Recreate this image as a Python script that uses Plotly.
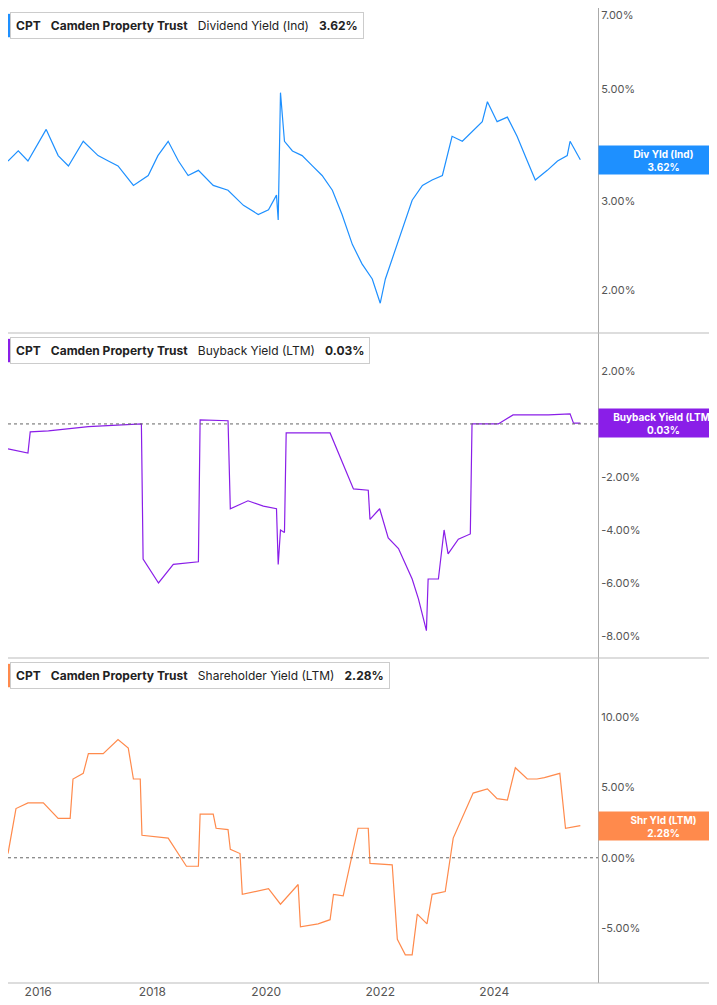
import pandas as pd
import plotly.graph_objects as go
from plotly.subplots import make_subplots

def to_dates(years):
    return [pd.Timestamp("2016-01-01") + pd.Timedelta(days=(y - 2016) * 365.25) for y in years]

div_years = [2015.47,2015.65,2015.82,2016.14,2016.35,2016.53,2016.79,2017.05,2017.23,2017.40,2017.67,2017.93,2018.10,2018.28,2018.46,2018.63,2018.81,2019.07,2019.33,2019.60,2019.86,2020.04,2020.18,2020.21,2020.25,2020.32,2020.46,2020.63,2020.81,2020.98,2021.16,2021.33,2021.51,2021.68,2021.86,2022.0,2022.09,2022.21,2022.39,2022.56,2022.74,2022.91,2023.09,2023.26,2023.44,2023.61,2023.79,2023.88,2024.05,2024.23,2024.40,2024.58,2024.72,2024.93,2025.11,2025.28,2025.33,2025.51]
div_vals = [3.60,3.77,3.60,4.16,3.69,3.52,3.94,3.69,3.60,3.52,3.22,3.37,3.69,3.94,3.60,3.37,3.45,3.22,3.15,2.94,2.82,2.88,3.08,2.75,4.92,3.94,3.77,3.69,3.52,3.37,3.15,2.82,2.46,2.25,2.10,1.88,2.10,2.30,2.63,3.01,3.22,3.30,3.37,4.03,3.94,4.12,4.31,4.72,4.31,4.40,4.03,3.60,3.30,3.45,3.60,3.69,3.94,3.62]

bb_years = [2015.47,2015.82,2015.86,2016.18,2016.88,2017.81,2017.84,2018.11,2018.37,2018.81,2018.84,2019.33,2019.37,2019.68,2019.95,2020.18,2020.21,2020.25,2020.32,2020.35,2021.12,2021.53,2021.79,2021.82,2021.99,2022.14,2022.32,2022.44,2022.56,2022.67,2022.81,2022.84,2023.02,2023.12,2023.19,2023.37,2023.58,2023.61,2024.07,2024.33,2024.95,2025.33,2025.39,2025.51]
bb_vals = [-0.94,-1.1,-0.3,-0.26,-0.1,0.0,-5.1,-6.0,-5.3,-5.2,0.15,0.12,-3.2,-2.9,-3.1,-3.2,-5.3,-4.0,-4.1,-0.34,-0.34,-2.45,-2.5,-3.6,-3.2,-4.3,-4.7,-5.3,-5.85,-6.6,-7.8,-5.85,-5.85,-4.0,-4.9,-4.35,-4.15,0.0,0.0,0.34,0.34,0.38,0.03,0.03]

sh_years = [2015.47,2015.61,2015.82,2016.09,2016.35,2016.56,2016.61,2016.79,2016.88,2017.14,2017.40,2017.58,2017.67,2017.79,2017.82,2018.28,2018.60,2018.81,2018.84,2019.07,2019.12,2019.33,2019.37,2019.54,2019.58,2020.04,2020.25,2020.56,2020.60,2020.91,2021.12,2021.18,2021.35,2021.61,2021.79,2021.82,2022.21,2022.30,2022.44,2022.56,2022.65,2022.82,2022.91,2023.14,2023.28,2023.46,2023.63,2023.88,2024.05,2024.23,2024.37,2024.58,2024.75,2024.88,2025.15,2025.25,2025.51]
sh_vals = [0.3,3.5,3.9,3.9,2.8,2.8,5.6,6.0,7.4,7.4,8.4,7.8,5.6,5.6,1.6,1.4,-0.6,-0.6,3.1,3.1,2.1,2.0,0.6,0.3,-2.6,-2.2,-3.3,-1.9,-4.9,-4.7,-4.4,-2.6,-2.7,2.1,2.1,-0.4,-0.5,-5.8,-6.9,-6.9,-4.0,-4.7,-2.6,-2.4,1.4,3.1,4.6,4.9,4.2,4.1,6.4,5.6,5.6,5.7,6.0,2.1,2.28]

BLUE = "#1e90ff"
PURPLE = "#8a1ee8"
ORANGE = "#ff8a4c"

fig = make_subplots(rows=3, cols=1, shared_xaxes=True, vertical_spacing=0)
fig.add_trace(go.Scatter(x=to_dates(div_years), y=div_vals, mode="lines", line=dict(color=BLUE, width=1.2)), row=1, col=1)
fig.add_trace(go.Scatter(x=to_dates(bb_years), y=bb_vals, mode="lines", line=dict(color=PURPLE, width=1.2)), row=2, col=1)
fig.add_trace(go.Scatter(x=to_dates(sh_years), y=sh_vals, mode="lines", line=dict(color=ORANGE, width=1.2)), row=3, col=1)

tickfont = dict(family="Inter", size=11, color="#555")
fig.update_yaxes(side="right", showgrid=False, zeroline=False, ticks="", tickfont=tickfont,
                 showline=True, linecolor="#aaa", mirror=False, ticklabeloverflow="allow")
fig.update_yaxes(type="log", range=[0.215, 0.86], tickvals=[2, 3, 5, 7],
                 ticktext=["2.00%", "3.00%", "5.00%", "7.00%"], row=1, col=1)
fig.update_yaxes(range=[-8.83, 3.43], tickvals=[2, -2, -4, -6, -8],
                 ticktext=["2.00%", "-2.00%", "-4.00%", "-6.00%", "-8.00%"], row=2, col=1)
fig.update_yaxes(range=[-8.9, 14.2], tickvals=[10, 5, 0, -5],
                 ticktext=["10.00%", "5.00%", "0.00%", "-5.00%"], row=3, col=1)
x0 = to_dates([2015.47])[0]
x1 = to_dates([2025.82])[0]
fig.update_xaxes(range=[x0, x1], showgrid=False, ticks="", tickfont=dict(family="Inter", size=12, color="#555"),
                 dtick="M24", tick0="2016-01-01", tickformat="%Y", showline=False)

for r, lab, val, col, tag, yv in [
    (1, "Dividend Yield (Ind)", "3.62%", BLUE, "Div Yld (Ind)", 0.5587),
    (2, "Buyback Yield (LTM)", "0.03%", PURPLE, "Buyback Yield (LTM)", 0.03),
    (3, "Shareholder Yield (LTM)", "2.28%", ORANGE, "Shr Yld (LTM)", 2.28),
]:
    yref = "y" if r == 1 else f"y{r}"
    dom_top = 1 - (r - 1) / 3
    fig.add_annotation(xref="paper", yref="paper", x=0.004, y=dom_top - 0.004, xanchor="left", yanchor="top",
                       text=f"<b>CPT</b>   <b>Camden Property Trust</b>   {lab}   <b>{val}</b>",
                       showarrow=False, bgcolor="white", bordercolor="#ccc", borderwidth=1, borderpad=5,
                       font=dict(family="Inter", size=12, color="#222"))
    fig.add_shape(type="rect", xref="paper", yref="paper", x0=0, x1=0.005, y0=dom_top - 0.03, y1=dom_top - 0.006,
                  fillcolor=col, line_width=0)
    fig.add_annotation(xref="paper", yref=yref, x=1.0, y=yv, xanchor="left", yanchor="middle",
                       text=f"<b>{tag}</b><br><b>{val}</b>", showarrow=False, bgcolor=col, width=127, height=26,
                       font=dict(family="Inter", size=10, color="white"), align="center")
    if r > 1:
        fig.add_shape(type="line", xref="paper", yref=yref, x0=0, x1=1, y0=0, y1=0,
                      line=dict(color="#666", width=1, dash="dot"))
for yy in [0, 1/3, 2/3]:
    fig.add_shape(type="line", xref="paper", yref="paper", x0=0, x1=1.25, y0=yy, y1=yy,
                  line=dict(color="#bbb", width=1))

fig.update_layout(width=717, height=1005, margin=dict(l=0, r=127, t=0, b=30, autoexpand=False), showlegend=False,
                  plot_bgcolor="white", paper_bgcolor="white")
fig.write_html("out.html")
